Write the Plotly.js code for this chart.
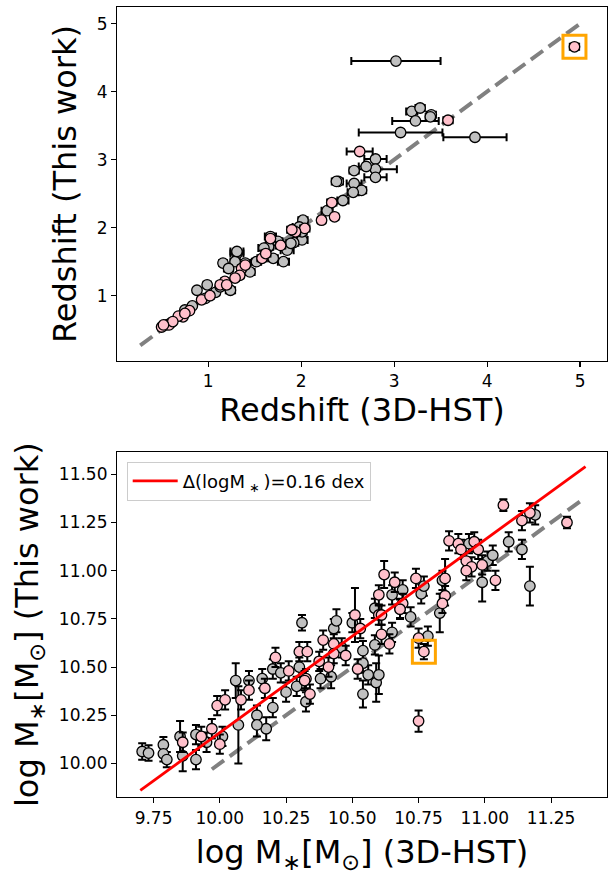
<!DOCTYPE html>
<html>
<head>
<meta charset="utf-8">
<script src="https://cdn.plot.ly/plotly-3.0.1.min.js"></script>
<style>html,body{margin:0;padding:0;background:#fff;}#chart{width:608px;height:878px;}</style>
</head>
<body>
<div id="chart"></div>
<script>
// ---------- Top panel: redshift comparison ----------
const zGrayHST  = [3.02,3.87,3.07,3.19,3.28,3.40,3.23,3.39,2.80,2.80,2.57,2.80,2.40,2.57,2.65,2.56,2.02,1.98,2.01,1.67,1.65,1.81,1.70,1.85,2.01,1.31,1.40,1.16,1.24,0.99,0.88,1.08,0.75,0.60,1.60,1.52,1.29,2.45,2.70,1.75,1.92,2.28,1.45,1.22,0.97,0.83,0.55,1.13,2.38,1.89,1.31];
const zGrayThis = [4.45,3.33,3.40,3.71,3.76,3.66,3.57,3.63,3.01,2.86,2.84,2.74,2.68,2.65,2.55,2.52,2.11,2.01,1.82,1.87,1.72,1.50,1.55,1.67,1.94,1.62,1.48,1.48,1.08,1.16,1.08,1.05,0.79,0.60,1.70,1.50,1.50,2.40,2.90,1.80,1.78,2.25,1.35,1.40,0.96,0.85,0.57,1.13,2.68,1.77,1.65];
const zGrayErr  = [0.48,0.34,0.45,0.06,0.05,0.05,0.25,0.05,0.12,0.23,0.05,0.12,0.05,0.08,0.05,0.06,0.05,0.07,0.06,0.06,0.05,0.06,0.05,0.07,0.05,0.07,0.05,0.04,0.05,0.04,0.03,0.04,0.03,0.03,0.06,0.05,0.05,0.06,0.08,0.05,0.05,0.06,0.05,0.05,0.03,0.03,0.02,0.04,0.05,0.05,0.07];

const zPinkHST  = [4.94,3.58,2.63,2.33,2.22,2.36,2.04,1.94,1.67,1.90,1.58,1.36,1.34,1.18,1.13,0.93,0.73,0.50,0.58,0.68,0.80,1.02,1.29,1.62,1.78,1.40,0.62,0.75,1.20,0.52];
const zPinkThis = [4.66,3.58,3.12,2.37,2.11,2.16,1.99,1.94,1.84,1.97,1.55,1.40,1.30,1.21,1.16,0.94,0.69,0.54,0.57,0.70,0.78,1.00,1.26,1.62,1.74,1.45,0.62,0.74,1.16,0.57];
const zPinkErr  = [0.05,0.05,0.14,0.05,0.04,0.04,0.05,0.05,0.05,0.05,0.05,0.04,0.04,0.04,0.04,0.03,0.03,0.02,0.02,0.03,0.03,0.04,0.04,0.05,0.05,0.04,0.02,0.03,0.04,0.02];

const zHighlightHST  = [4.94];
const zHighlightThis = [4.66];
const zOneToOne = [0.27, 5.03];

// ---------- Bottom panel: stellar mass comparison ----------
const mGrayHST  = [9.707,9.731,9.787,9.787,9.80,9.85,9.86,9.91,9.91,9.95,10.01,10.06,10.07,10.11,10.16,10.14,10.175,10.20,10.20,10.23,10.25,10.29,10.30,10.325,10.31,10.38,10.42,10.43,10.44,10.50,10.54,10.56,10.59,10.60,10.54,10.54,10.585,10.585,10.65,10.65,10.69,10.72,10.76,10.77,10.785,10.83,10.84,10.94,11.01,10.99,11.03,11.09,11.14,11.17,11.19,10.14,10.46];
const mGrayThis = [10.062,10.054,10.097,10.05,10.02,10.14,10.04,10.15,10.02,10.11,10.14,10.43,10.20,10.43,10.44,10.25,10.18,10.29,10.49,10.47,10.37,10.40,10.50,10.32,10.73,10.44,10.45,10.70,10.74,10.73,10.36,10.46,10.42,10.46,10.52,10.585,10.615,10.805,10.68,10.875,10.90,10.76,10.88,10.92,10.66,10.78,10.95,11.14,11.05,10.94,11.08,11.15,11.11,10.92,11.29,10.20,10.60];
const mGrayErr  = [0.043,0.04,0.04,0.04,0.04,0.08,0.08,0.05,0.05,0.05,0.05,0.09,0.20,0.05,0.05,0.05,0.06,0.05,0.05,0.05,0.05,0.05,0.05,0.05,0.04,0.05,0.06,0.05,0.06,0.05,0.07,0.05,0.10,0.10,0.05,0.05,0.05,0.05,0.05,0.05,0.05,0.05,0.05,0.05,0.05,0.10,0.05,0.05,0.05,0.10,0.05,0.05,0.05,0.10,0.05,0.06,0.05];

const mPinkHST  = [9.86,9.93,9.97,10.00,9.99,10.02,10.08,10.11,10.17,10.21,10.26,10.30,10.325,10.33,10.39,10.41,10.43,10.475,10.51,10.375,10.32,10.34,10.43,10.52,10.53,10.60,10.61,10.61,10.64,10.68,10.60,10.62,10.66,10.69,10.68,10.74,10.75,10.77,10.75,10.85,10.85,10.84,10.865,10.90,10.91,10.96,10.975,10.93,10.95,10.93,10.99,11.04,11.07,11.14,11.17,11.31];
const mPinkThis = [10.11,10.14,10.18,10.10,10.30,10.33,10.33,10.38,10.39,10.55,10.48,10.58,10.44,10.58,10.64,10.50,10.62,10.56,10.77,10.53,10.43,10.36,10.57,10.49,10.70,10.77,10.77,10.67,10.62,10.805,10.875,10.98,10.94,10.83,10.80,10.96,10.65,10.58,10.22,10.96,10.87,10.83,11.155,11.14,11.11,11.15,11.11,11.05,11.02,11.00,11.03,10.95,11.34,11.26,11.30,11.25];
const mPinkErr  = [0.05,0.05,0.05,0.05,0.05,0.05,0.05,0.05,0.05,0.05,0.05,0.05,0.05,0.05,0.05,0.05,0.05,0.05,0.14,0.05,0.05,0.05,0.05,0.05,0.05,0.05,0.05,0.05,0.05,0.05,0.05,0.07,0.05,0.05,0.05,0.05,0.05,0.04,0.055,0.10,0.05,0.05,0.05,0.05,0.05,0.05,0.05,0.05,0.05,0.05,0.05,0.05,0.03,0.05,0.05,0.03];

const mHighlightHST  = [10.77];
const mHighlightThis = [10.58];
const mOneToOne = [9.97, 11.37];
const mFitX = [9.70, 11.38];
const mFitY = [9.86, 11.54];
const fitLabel = 'Δ(logM<sub> ∗ </sub>)=0.16 dex';

const topXTicks = [1,2,3,4,5];
const topYTicks = [1,2,3,4,5];
const botXTicks = [9.75,10.00,10.25,10.50,10.75,11.00,11.25];
const botYTicks = [10.00,10.25,10.50,10.75,11.00,11.25,11.50];

// ---------- styles ----------
const GRAY = '#c0c0c0', PINK = '#ffc0cb';
const mk = c => ({color:c, size:10.5, line:{color:'black', width:1.3}});
const errX = a => ({type:'data', array:a, visible:true, color:'black', thickness:2, width:4});
const errY = a => ({type:'data', array:a, visible:true, color:'black', thickness:2, width:4});

const traces = [
  {x:zOneToOne, y:zOneToOne, mode:'lines', line:{color:'gray', width:4, dash:'15px,7px'}, xaxis:'x', yaxis:'y', showlegend:false, hoverinfo:'skip'},
  {x:zGrayHST, y:zGrayThis, mode:'markers', marker:mk(GRAY), error_x:errX(zGrayErr), xaxis:'x', yaxis:'y', showlegend:false},
  {x:zPinkHST, y:zPinkThis, mode:'markers', marker:mk(PINK), error_x:errX(zPinkErr), xaxis:'x', yaxis:'y', showlegend:false},
  {x:zHighlightHST, y:zHighlightThis, mode:'markers', marker:{symbol:'square-open', size:23, color:'orange', line:{color:'orange', width:3}}, xaxis:'x', yaxis:'y', showlegend:false},

  {x:mOneToOne, y:mOneToOne, mode:'lines', line:{color:'gray', width:4, dash:'15px,7px'}, xaxis:'x2', yaxis:'y2', showlegend:false, hoverinfo:'skip'},
  {x:mGrayHST, y:mGrayThis, mode:'markers', marker:mk(GRAY), error_y:errY(mGrayErr), xaxis:'x2', yaxis:'y2', showlegend:false},
  {x:mPinkHST, y:mPinkThis, mode:'markers', marker:mk(PINK), error_y:errY(mPinkErr), xaxis:'x2', yaxis:'y2', showlegend:false},
  {x:mHighlightHST, y:mHighlightThis, mode:'markers', marker:{symbol:'square-open', size:23, color:'orange', line:{color:'orange', width:3}}, xaxis:'x2', yaxis:'y2', showlegend:false},
  {x:mFitX, y:mFitY, mode:'lines', line:{color:'red', width:2.8}, name:fitLabel, xaxis:'x2', yaxis:'y2', showlegend:true}
];

const axBase = {
  showline:true, mirror:true, linecolor:'black', linewidth:1.1,
  ticks:'outside', ticklen:5, tickwidth:1.1, tickcolor:'black',
  showgrid:false, zeroline:false, tickfont:{size:17, color:'black'}
};

const layout = {
  width:608, height:878,
  margin:{l:117, r:1, t:7, b:81, pad:0},
  paper_bgcolor:'white', plot_bgcolor:'white',
  font:{family:'DejaVu Sans', color:'black'},
  xaxis:Object.assign({}, axBase, {domain:[0,1], anchor:'y', range:[0.02,5.29], tickvals:topXTicks,
    title:{text:'Redshift (3D-HST)', font:{size:32}, standoff:6}}),
  yaxis:Object.assign({}, axBase, {domain:[0.5519,1], anchor:'x', range:[0.04,5.245], tickvals:topYTicks,
    title:{text:'Redshift (This work)', font:{size:32}, standoff:10}}),
  xaxis2:Object.assign({}, axBase, {domain:[0,1], anchor:'y2', range:[9.612,11.461], tickvals:botXTicks, tickformat:'.2f',
    title:{text:'log M<sub>∗</sub>[M<sub>⊙</sub>] (3D-HST)', font:{size:32}, standoff:14}}),
  yaxis2:Object.assign({}, axBase, {domain:[0,0.4363], anchor:'x2', range:[9.826,11.614], tickvals:botYTicks, tickformat:'.2f',
    title:{text:'log M<sub>∗</sub>[M<sub>⊙</sub>] (This work)', font:{size:32}, standoff:10}}),
  showlegend:true,
  legend:{x:0.0198, y:0.4244, xanchor:'left', yanchor:'top', bgcolor:'rgba(255,255,255,0.8)',
    bordercolor:'#cccccc', borderwidth:1, font:{size:18}, itemwidth:45}
};

Plotly.newPlot('chart', traces, layout, {displayModeBar:false, staticPlot:true});
</script>
</body>
</html>
